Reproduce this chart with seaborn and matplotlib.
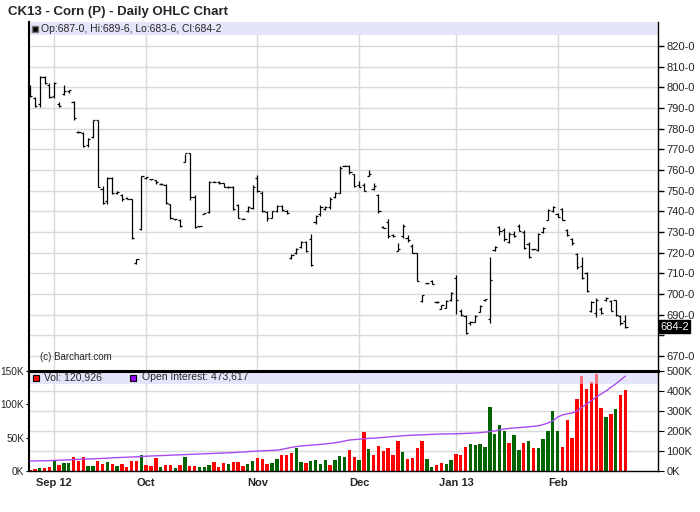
import numpy as np
import pandas as pd
import matplotlib
matplotlib.use("Agg")
import matplotlib.pyplot as plt
import matplotlib.transforms as mtransforms
from matplotlib.patches import Rectangle
import seaborn as sns

# daily bars from late Aug 2012 to Feb 2013, one entry per trading day
opens = [799, 795, 792, 805, 801, 796, 792, 797, 798, 793,
         778.5, 778, 772, 776, 784, 751, 745, 756, 749, 748,
         746.5, 746, 715, 731.5, 756, 755.5, 755, 753.2, 753, 743.5,
         736.2, 736, 764, 768, 747, 732.8, 738.8, 739.5, 754.2, 754.3,
         753.5, 751.8, 752, 743, 736.5, 740, 741.5, 756, 749, 739.5,
         737, 740, 742.5, 740, 717.5, 720, 723, 725, 726.5, 735,
         738.5, 741, 742, 747, 749, 762, 762, 758, 753, 753,
         757, 750.8, 748, 732.5, 735, 728.6, 721, 728, 727, 723.5,
         720, 696.5, 705.2, 706.5, 696.2, 693, 693.5, 697, 708, 692,
         689.5, 686, 686.5, 691.5, 697, 688, 721.5, 732.5, 731, 725,
         729, 733, 730, 724, 721.8, 721.5, 730, 736, 740, 738.5,
         741, 731, 726.5, 719.5, 713.5, 710, 692, 691, 693, 697,
         696.5, 697, 689.5, 687]
highs = [801.3, 795.5, 805.6, 805.6, 802, 802.7, 792.7, 801.3, 798.7, 793.5,
         778.7, 778.4, 775.5, 784.2, 784.2, 752.4, 756.8, 756.8, 749.7, 748.4,
         747, 746.1, 717.1, 757.1, 756.6, 755.8, 755.3, 753.5, 753.4, 743.7,
         736.5, 736.5, 767.9, 768.2, 747.7, 733, 739.2, 754.5, 754.5, 754.5,
         753.7, 752.1, 752.1, 743.7, 736.8, 742.4, 752.6, 757.4, 749.7, 740.2,
         740.2, 742.9, 742.9, 740.5, 719.5, 722.4, 725.5, 725.5, 729.2, 738.4,
         743.2, 742.4, 746.9, 749.4, 761.8, 762.3, 762.3, 758.2, 754.5, 753.7,
         760.2, 753.7, 748.2, 732.7, 736.5, 728.9, 724.8, 734, 728.4, 724,
         720, 699.8, 705.5, 706.8, 696.8, 694.7, 697.1, 700.8, 709.2, 692.6,
         690, 686.8, 690, 694.7, 697.6, 718.1, 723.2, 733.1, 731.9, 729.8,
         730.3, 733.9, 731, 725, 722, 729.4, 732.3, 741.1, 742.7, 739,
         741.6, 731.5, 727.1, 720, 717.7, 710.5, 696.5, 698.1, 693.9, 698.4,
         697.1, 697.1, 690, 689.75]
lows = [795.2, 790.3, 790.3, 801.6, 794.8, 794.8, 790.3, 796.5, 797.4, 784.2,
        778, 771.3, 771.3, 775.5, 751.6, 743.5, 743.5, 748.4, 748.4, 745.2,
        746, 726.8, 714.4, 731.1, 755.8, 755.3, 753.4, 753, 743.7, 736.5,
        736, 732.4, 763.9, 745.3, 732.1, 732.5, 738.5, 739.2, 754, 753.4,
        751.8, 751.5, 740.5, 736.8, 736.1, 739.7, 741.3, 749.4, 739.7, 735.3,
        736.9, 739.7, 740.2, 738.5, 717.1, 719.5, 722.4, 720.3, 713.4, 734,
        738, 740.5, 741.3, 746.6, 748.9, 761.8, 758.2, 751.8, 751.8, 749.8,
        756.9, 750.5, 739.2, 732.1, 727.3, 727.6, 720.8, 727.3, 725.2, 719.8,
        706.3, 696.1, 705, 704.8, 695.5, 692.7, 693.2, 696.8, 690.3, 689.5,
        680.6, 685.2, 686.3, 691.1, 696.8, 685.8, 721, 728.7, 725.5, 724.5,
        727.4, 730.3, 721.8, 717.6, 721.5, 721, 729.4, 735.8, 739.5, 737.1,
        735.8, 728.2, 723.9, 712.1, 707.3, 700.8, 691.1, 689, 690.3, 696.8,
        691.6, 689.5, 685.2, 683.75]
closes = [796, 791, 805, 802, 795.5, 802, 791, 798, 798.5, 785,
          778.2, 771.5, 775, 784, 752, 744, 756, 749, 749.5, 746,
          746.2, 727, 717, 757, 756.5, 755.5, 754, 753.4, 744, 737,
          736.4, 733, 768, 747, 732.5, 733, 739, 754, 754.3, 753.6,
          752, 751.8, 741, 737, 736.4, 742, 752, 750, 740, 737,
          740, 742.5, 740.5, 739, 719, 722, 725, 721, 714, 738,
          742, 742, 746, 749, 761, 762, 759, 752.5, 752, 750,
          758, 752.5, 740, 732.2, 728, 728, 722, 733, 726, 720,
          706.5, 699.5, 705.3, 705, 696, 694.5, 696.5, 700.5, 697, 690,
          681, 686.5, 689.5, 694, 697.4, 707, 723, 730.5, 726.5, 729,
          728, 730.5, 722.5, 718, 721.7, 729, 731.8, 740.5, 742.3, 737.5,
          736, 728.5, 724.5, 713, 708, 701.5, 696, 697, 691, 698,
          692, 690, 686, 684.25]

# volume in thousands, bar colour (g = up day, r = down day)
volume_k = [1.5, 3.6, 5.2, 5.2, 6.7, 16, 9.3, 11.3, 11.3, 21.6,
            14.4, 21.6, 7.7, 7.7, 14.4, 10.8, 13.9, 10.8, 7.7, 10.8,
            6.7, 14.4, 15.5, 24.7, 9.3, 7.7, 20.1, 6.2, 9.3, 9.3,
            5.2, 9.3, 21.6, 7.7, 7.7, 6.2, 6.2, 9.3, 13.9, 6.2,
            12.4, 10.8, 13.9, 13.9, 7.7, 10.8, 15.5, 20.1, 17.5, 10.8,
            12.4, 18.6, 24.7, 24.7, 26.3, 34, 13.9, 12.4, 15.5, 17,
            10.8, 17, 9.3, 17, 23.2, 21.6, 31.5, 20.5, 16.5, 59,
            33, 24, 37.5, 30.5, 34, 24, 45, 28.5, 18.5, 19.5,
            34, 45, 18, 6, 9, 12, 10.5, 16.5, 25.5, 24,
            36, 40.5, 39, 40.5, 36, 96, 55.5, 69, 60, 42,
            54, 31.5, 42, 45, 34.5, 34.5, 48, 60, 90, 60,
            36, 76.5, 49.5, 108, 142.5, 123, 133.5, 145.5, 94.5, 81,
            85.5, 93, 114.5, 120.9]
vol_dir = list("rrgrrgrggrrrggrrgrgrrrrgrrrgrrgrgrrgggrrrgrrrggrrrggrrrggrggggrgggr"
               "rgrgrrrrrrgrrrrggrrggrrrggggggggrggrgrgggggrrrrrrrrrgrgrr")

# open interest in thousands
open_interest_k = [50, 50, 51, 51, 52, 53, 54, 55, 56, 57,
                   58, 59, 60, 61, 62, 63, 64, 66, 67, 68,
                   69, 70, 71, 72, 74, 75, 76, 77, 78, 79,
                   80, 81, 82, 83, 84, 85, 86, 87, 88, 89,
                   90, 91, 92, 94, 95, 97, 98, 100, 101, 102,
                   103, 104, 108, 113, 118, 122, 125, 127, 129, 131,
                   133, 135, 138, 141, 145, 150, 155, 157, 159, 161,
                   163, 164, 166, 168, 170, 172, 174, 176, 178, 179,
                   180, 181, 182, 183, 184, 185, 185, 186, 186, 187,
                   188, 189, 190, 192, 194, 197, 200, 205, 210, 213,
                   215, 217, 219, 221, 223, 226, 232, 240, 250, 270,
                   280, 286, 290, 300, 318, 335, 352, 370, 385, 400,
                   418, 435, 455, 474]

month_pos = [5, 24, 47, 68, 88, 109]
month_labels = ["Sep 12", "Oct", "Nov", "Dec", "Jan 13", "Feb"]
price_ticks = list(range(670, 830, 10))
price_labels = ["" if p == 680 else f"{p}-0" for p in price_ticks]

W, H = 700, 512
GRID = "#d9d9d9"
BAND = "#e4e4fa"
UP, DOWN = "#006400", "#ff0000"

sns.set_style("white")
plt.rcParams["font.family"] = ["Liberation Sans", "DejaVu Sans"]

idx = np.arange(len(highs))
fig = plt.figure(figsize=(W / 100, H / 100), dpi=100, facecolor="white")
left, right = 28.5, 658
ax = fig.add_axes([left / W, 1 - 371 / H, (right - left) / W, (371 - 22) / H])
axv = fig.add_axes([left / W, 1 - 471 / H, (right - left) / W, 100 / H])

xlim = (-0.31, 129.75)

# price panel
ax.set_axisbelow(True)
ax.vlines(idx, lows, highs, color="black", lw=0.9, zorder=3)
ax.hlines(opens, idx - 0.45, idx, color="black", lw=0.9, zorder=3)
ax.hlines(closes, idx, idx + 0.45, color="black", lw=0.9, zorder=3)
ax.set_xlim(*xlim)
ax.set_ylim(662.8, 831.6)
ax.set_xticks(month_pos)
ax.set_yticks(price_ticks)
ax.set_yticklabels(price_labels)
ax.yaxis.tick_right()
ax.tick_params(axis="y", labelsize=8, length=4, width=1, color="black", pad=2, right=True, left=False)
ax.tick_params(axis="x", length=0, labelbottom=False)
ax.grid(True, color=GRID, lw=1)
for s in ["top", "bottom"]:
    ax.spines[s].set_visible(False)
ax.spines["left"].set_linewidth(1.5)
ax.spines["right"].set_linewidth(1)
for s in ["left", "right"]:
    ax.spines[s].set_color("black")
ax.add_patch(Rectangle((0, 1 - 13 / 349), 1, 13 / 349, transform=ax.transAxes,
                       fc=BAND, ec="none", zorder=1))
ax.plot([6 / (right - left)], [1 - 6.5 / 349], marker="s", ms=4, mfc="black", mec="#777777",
        transform=ax.transAxes, clip_on=False, zorder=5)
ax.text(12.5 / (right - left), 1 - 6.5 / 349, "Op:687-0, Hi:689-6, Lo:683-6, Cl:684-2",
        transform=ax.transAxes, fontsize=7.5, va="center", ha="left", zorder=5)
ax.text(12 / (right - left), 14 / 349, "(c) Barchart.com", transform=ax.transAxes,
        fontsize=7, va="center", ha="left")
trans = mtransforms.blended_transform_factory(ax.transAxes, ax.transData)
ax.text(1.004, closes[-1], "684-2", transform=trans, color="white", fontsize=8,
        va="center", ha="left",
        bbox=dict(boxstyle="square,pad=0.12", fc="black", ec="black"))

# volume panel
vol_df = pd.DataFrame({"idx": idx, "vol": np.array(volume_k) * 1000,
                       "dir": ["up" if d == "g" else "down" for d in vol_dir]})
vol_df["color"] = vol_df["dir"].map({"up": UP, "down": DOWN})
axv.set_axisbelow(True)
axv.bar(vol_df["idx"], vol_df["vol"], width=0.7, color=vol_df["color"], linewidth=0, zorder=2)
axv.set_xlim(*xlim)
axv.set_ylim(0, 150000)
axv.set_yticks([0, 50000, 100000, 150000])
axv.set_yticklabels(["0K", "50K", "100K", "150K"])
axv.set_yticks([30000, 60000, 90000, 120000], minor=True)
axv.grid(True, which="minor", axis="y", color=GRID, lw=1)
axv.set_xticks(month_pos)
axv.grid(True, which="major", axis="x", color=GRID, lw=1)
axv.set_xticklabels(month_labels, fontweight="bold", fontsize=8)
axv.tick_params(axis="x", length=0, pad=5)
axv.tick_params(axis="y", which="major", labelsize=7.3, length=2, color="black", pad=1, left=True)
axv.tick_params(axis="y", which="minor", length=0)
for s in axv.spines.values():
    s.set_color("black")
    s.set_linewidth(1)
axv.spines["top"].set_linewidth(2.2)
axv.spines["left"].set_linewidth(1.5)
band_h = 13 / 100
axv.add_patch(Rectangle((0, 1 - band_h), 1, band_h, transform=axv.transAxes,
                        fc=BAND, ec="none", zorder=1))
axv.add_patch(Rectangle((0, 1 - band_h), 1, band_h, transform=axv.transAxes,
                        fc=BAND, ec="none", alpha=0.5, zorder=2.5))

axo = axv.twinx()
sns.lineplot(x=idx, y=np.array(open_interest_k) * 1000, ax=axo, color="#a84af0", lw=1.0)
axo.set_ylim(0, 500000)
axo.set_xlim(*xlim)
axo.set_yticks([0, 100000, 200000, 300000, 400000, 500000])
axo.set_yticklabels(["0K", "100K", "200K", "300K", "400K", "500K"])
axo.tick_params(axis="y", labelsize=8, length=4, color="black", pad=2, right=True)
axo.set_ylabel("")
for s in axo.spines.values():
    s.set_visible(False)

axv.plot([7 / (right - left)], [1 - 6.5 / 100], marker="s", ms=5, mfc=DOWN, mec="black",
         mew=0.8, transform=axv.transAxes, clip_on=False, zorder=5)
axv.text(16 / (right - left), 1 - 6.5 / 100, "Vol: 120,926", transform=axv.transAxes,
         fontsize=7.5, va="center", ha="left", zorder=5)
axv.plot([104.5 / (right - left)], [1 - 6.5 / 100], marker="s", ms=5, mfc="#9900ff", mec="black",
         mew=0.8, transform=axv.transAxes, clip_on=False, zorder=5)
axv.text(113 / (right - left), 1 - 6.5 / 100, "Open Interest: 473,617", transform=axv.transAxes,
         fontsize=7.5, va="center", ha="left", zorder=5)

fig.text(8 / W, 1 - 15 / H, "CK13 - Corn (P) - Daily OHLC Chart", fontsize=9.5,
         fontweight="bold", va="baseline", ha="left")

fig.savefig("out.png", dpi=100, facecolor="white")
